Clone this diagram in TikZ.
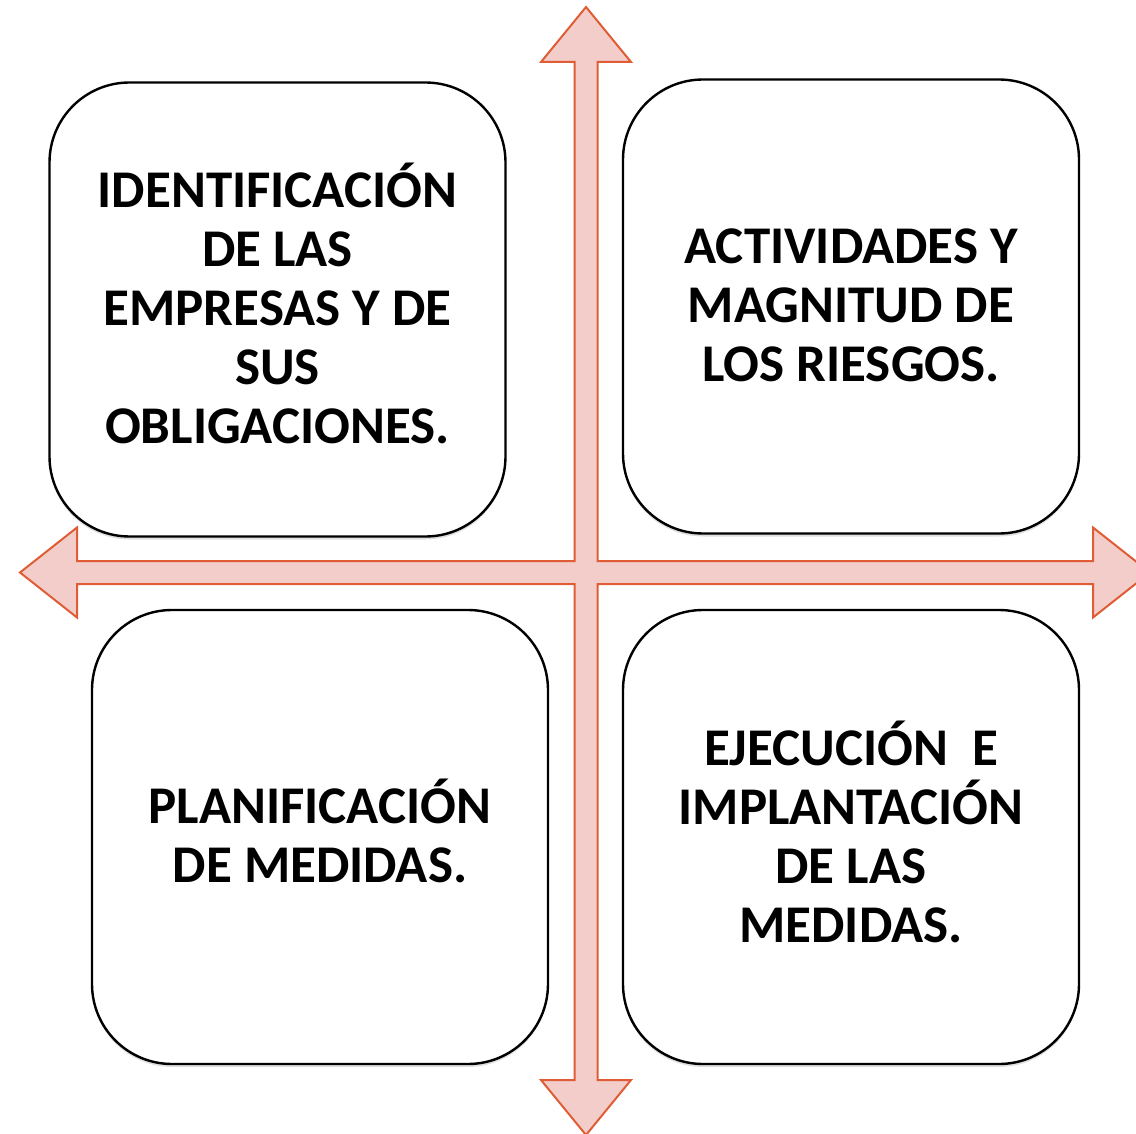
\documentclass[tikz,border=0pt]{standalone}
\usepackage{fontspec}
\setmainfont{Carlito}
\usetikzlibrary{shadows}

\definecolor{cruzfill}{RGB}{242,205,201}
\definecolor{cruzline}{RGB}{224,92,52}

\tikzset{
  cajon/.style={draw=black, line width=1.2pt, fill=white, rectangle,
    rounded corners=40pt, minimum width=228pt, minimum height=227pt,
    align=center, font=\fontsize{26.5}{29.5}\selectfont\bfseries,
    drop shadow={opacity=0.25, shadow xshift=0pt, shadow yshift=-1.5pt}},
  cruz/.style={fill=cruzfill, draw=cruzline, line width=1pt, line join=miter}
}

\begin{document}
\begin{tikzpicture}[x=0.5pt, y=-0.5pt]
    \useasboundingbox (0,0) rectangle (1136,1134);

    % Cross of four arrows
    \draw[cruz] (586,7) -- (631,62) -- (597.5,62) -- (597.5,561) -- (1093,561) -- (1093,527.5)
        -- (1150,572.5) -- (1093,617.5) -- (1093,584) -- (597.5,584) -- (597.5,1080) -- (631,1080)
        -- (586,1135) -- (541,1080) -- (574.5,1080) -- (574.5,584) -- (77,584) -- (77,617.5)
        -- (20,572.5) -- (77,527.5) -- (77,561) -- (574.5,561) -- (574.5,62) -- (541,62) -- cycle;

    % Four boxes
    \node[cajon, text depth=6pt] (identificacion) at (277.5,309.5) {IDENTIFICACIÓN\\DE LAS\\EMPRESAS Y DE\\SUS\\OBLIGACIONES.};
    \node[cajon, text depth=1pt] (actividades) at (851,306.5) {ACTIVIDADES Y\\MAGNITUD DE\\LOS RIESGOS.};
    \node[cajon, text depth=6pt] (planificacion) at (320,837) {PLANIFICACIÓN\\DE MEDIDAS.};
    \node[cajon, text depth=5pt] (ejecucion) at (851,837) {EJECUCIÓN~~E\\IMPLANTACIÓN\\DE LAS\\MEDIDAS.};
\end{tikzpicture}
\end{document}
